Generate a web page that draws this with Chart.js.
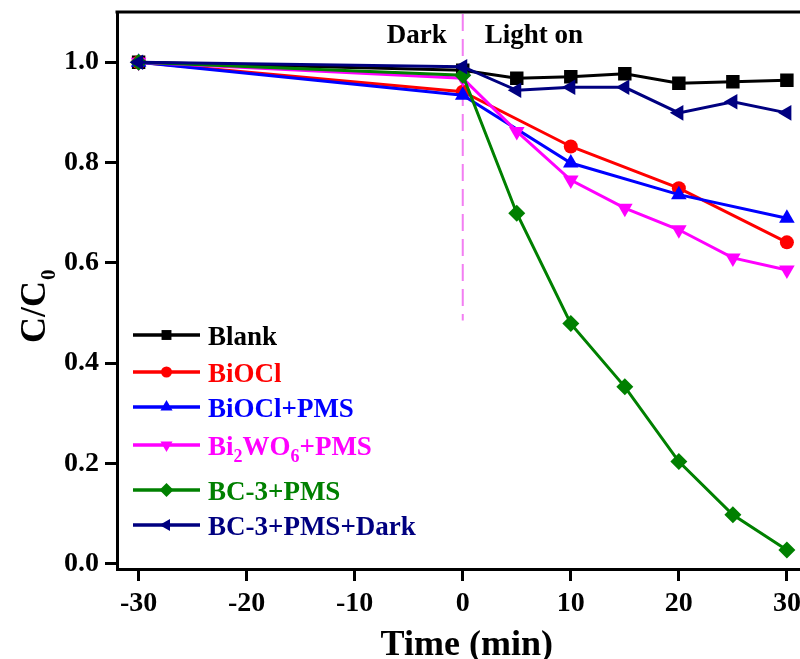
<!DOCTYPE html>
<html>
<head>
<meta charset="utf-8">
<script src="https://cdn.jsdelivr.net/npm/chart.js@4.4.1/dist/chart.umd.min.js"></script>
<style>
  html, body { margin: 0; padding: 0; background: #fff; overflow: hidden; }
  #wrap { width: 818px; height: 659px; }
</style>
</head>
<body>
<div id="wrap"><canvas id="c" width="818" height="659"></canvas></div>
<script>
// ---- data ----
const timeFull = [-30, 0, 5, 10, 15, 20, 25, 30];
const timeSparse = [-30, 0, 10, 20, 30];
const xTickValues = [-30, -20, -10, 0, 10, 20, 30];
const yTickValues = [0, 0.2, 0.4, 0.6, 0.8, 1.0];

const blank      = [1.0, 0.984, 0.968, 0.971, 0.977, 0.958, 0.961, 0.964];
const biocl      = [1.0, 0.941, 0.832, 0.749, 0.641];
const bioclPms   = [1.0, 0.934, 0.799, 0.736, 0.689];
const bi2wo6Pms  = [1.0, 0.968, 0.862, 0.765, 0.709, 0.666, 0.610, 0.586];
const bc3Pms     = [1.0, 0.974, 0.699, 0.479, 0.353, 0.204, 0.098, 0.028];
const bc3PmsDark = [1.0, 0.991, 0.944, 0.950, 0.950, 0.899, 0.921, 0.899];

const FONT = '"Liberation Serif", "Times New Roman", serif';

const series = [
  { label: 'Blank', parts: [['Blank', 0]], xs: timeFull, ys: blank, color: '#000000', style: 'rect', rot: 0, r: 9.5 },
  { label: 'BiOCl', parts: [['BiOCl', 0]], xs: timeSparse, ys: biocl, color: '#ff0000', style: 'circle', rot: 0, r: 7 },
  { label: 'BiOCl+PMS', parts: [['BiOCl+PMS', 0]], xs: timeSparse, ys: bioclPms, color: '#0000ff', style: 'triangle', rot: 0, r: 9 },
  { label: 'Bi2WO6+PMS', parts: [['Bi', 0], ['2', 1], ['WO', 0], ['6', 1], ['+PMS', 0]], xs: timeFull, ys: bi2wo6Pms, color: '#ff00ff', style: 'triangle', rot: 180, r: 9 },
  { label: 'BC-3+PMS', parts: [['BC-3+PMS', 0]], xs: timeFull, ys: bc3Pms, color: '#008000', style: 'rectRot', rot: 0, r: 8.5 },
  { label: 'BC-3+PMS+Dark', parts: [['BC-3+PMS+Dark', 0]], xs: timeFull, ys: bc3PmsDark, color: '#000080', style: 'triangle', rot: -90, r: 9 }
];

const datasets = series.map((s, i) => ({
  label: s.label,
  data: s.xs.map((x, k) => ({ x: x, y: s.ys[k] })),
  borderColor: s.color,
  backgroundColor: s.color,
  borderWidth: 3,
  pointStyle: s.style,
  pointRotation: s.rot,
  pointRadius: s.r,
  pointBorderWidth: 0,
  pointBackgroundColor: s.color,
  tension: 0,
  order: series.length - i
}));

function drawMarker(ctx, style, x, y, r, rot, color) {
  ctx.save();
  ctx.fillStyle = color;
  ctx.translate(x, y);
  ctx.rotate(rot * Math.PI / 180);
  ctx.beginPath();
  if (style === 'rect') {
    const s = r * Math.SQRT1_2;
    ctx.rect(-s, -s, 2 * s, 2 * s);
  } else if (style === 'circle') {
    ctx.arc(0, 0, r, 0, Math.PI * 2);
  } else if (style === 'triangle') {
    ctx.moveTo(0, -r);
    ctx.lineTo(r * Math.sin(Math.PI * 2 / 3), r * 0.5);
    ctx.lineTo(-r * Math.sin(Math.PI * 2 / 3), r * 0.5);
    ctx.closePath();
  } else if (style === 'rectRot') {
    ctx.moveTo(0, -r); ctx.lineTo(r, 0); ctx.lineTo(0, r); ctx.lineTo(-r, 0);
    ctx.closePath();
  }
  ctx.fill();
  ctx.restore();
}

function zeroPad(sc) {
  sc.paddingTop = 0; sc.paddingBottom = 0; sc.paddingLeft = 0; sc.paddingRight = 0;
}

const decorPlugin = {
  id: 'decor',
  beforeDatasetsDraw(chart) {
    const { ctx, chartArea, scales } = chart;
    const x0 = scales.x.getPixelForValue(0);
    ctx.save();
    ctx.strokeStyle = '#f27ef2';
    ctx.lineWidth = 2;
    ctx.setLineDash([17, 8]);
    ctx.beginPath();
    ctx.moveTo(x0, chartArea.top + 2);
    ctx.lineTo(x0, scales.y.getPixelForValue(0.485));
    ctx.stroke();
    ctx.restore();
  },
  afterDraw(chart) {
    const { ctx, chartArea, scales } = chart;
    ctx.save();
    // top / right frame
    ctx.strokeStyle = '#000';
    ctx.lineWidth = 3;
    ctx.beginPath();
    ctx.moveTo(chartArea.left - 1.5, chartArea.top);
    ctx.lineTo(chartArea.right, chartArea.top);
    ctx.lineTo(chartArea.right, chartArea.bottom);
    ctx.stroke();

    const x0 = scales.x.getPixelForValue(0);
    ctx.fillStyle = '#000';
    ctx.font = 'bold 27px ' + FONT;
    ctx.textBaseline = 'alphabetic';
    ctx.textAlign = 'right';
    ctx.fillText('Dark', x0 - 16, chartArea.top + 31);
    ctx.textAlign = 'left';
    ctx.fillText('Light on', x0 + 22, chartArea.top + 31);

    // x title
    ctx.textAlign = 'center';
    ctx.font = 'bold 36px ' + FONT;
    ctx.fillText('Time (min)', x0 + 4, 655);

    // y title with subscript
    ctx.save();
    ctx.translate(45, 343);
    ctx.rotate(-Math.PI / 2);
    ctx.textAlign = 'left';
    ctx.font = 'bold 36px ' + FONT;
    ctx.fillText('C/C', 0, 0);
    const w = ctx.measureText('C/C').width;
    ctx.font = 'bold 21px ' + FONT;
    ctx.fillText('0', w + 1, 10);
    ctx.restore();

    // legend
    const rows = [335, 372, 407, 445, 490, 525];
    const lx0 = 133, lx1 = 200, tx = 208;
    series.forEach((s, i) => {
      const y = rows[i];
      ctx.strokeStyle = s.color;
      ctx.lineWidth = 3.5;
      ctx.beginPath();
      ctx.moveTo(lx0, y);
      ctx.lineTo(lx1, y);
      ctx.stroke();
      drawMarker(ctx, s.style, (lx0 + lx1) / 2, y, s.style === 'circle' ? 5.5 : 7, s.rot, s.color);
      ctx.fillStyle = s.color;
      ctx.textAlign = 'left';
      let x = tx;
      s.parts.forEach(([t, sub]) => {
        ctx.font = sub ? ('bold 18px ' + FONT) : ('bold 27px ' + FONT);
        ctx.fillText(t, x, y + 10 + (sub ? 7 : 0));
        x += ctx.measureText(t).width;
      });
    });
    ctx.restore();
  }
};

new Chart(document.getElementById('c'), {
  type: 'line',
  data: { datasets: datasets },
  plugins: [decorPlugin],
  options: {
    responsive: false,
    animation: false,
    layout: { padding: { left: 0, top: 12, right: 3, bottom: 0 } },
    plugins: { legend: { display: false }, tooltip: { enabled: false } },
    scales: {
      x: {
        type: 'linear',
        min: -32, max: 32,
        afterBuildTicks: (sc) => { sc.ticks = xTickValues.map(v => ({ value: v })); },
        afterFit: (sc) => { sc.height = 90; zeroPad(sc); },
        grid: { drawOnChartArea: false, drawTicks: true, tickLength: 12, tickWidth: 3, tickColor: '#000' },
        border: { display: true, color: '#000', width: 3 },
        ticks: { color: '#000', font: { family: FONT, size: 28, weight: 'bold' }, padding: 6, maxRotation: 0, autoSkip: false }
      },
      y: {
        type: 'linear',
        min: -0.01, max: 1.1,
        afterBuildTicks: (sc) => { sc.ticks = yTickValues.map(v => ({ value: v })); },
        afterFit: (sc) => { sc.width = 117; zeroPad(sc); },
        grid: { drawOnChartArea: false, drawTicks: true, tickLength: 12, tickWidth: 3, tickColor: '#000' },
        border: { display: true, color: '#000', width: 3 },
        ticks: { color: '#000', font: { family: FONT, size: 28, weight: 'bold' }, padding: 6, autoSkip: false,
                 callback: (v) => Number(v).toFixed(1) }
      }
    }
  }
});
</script>
</body>
</html>
